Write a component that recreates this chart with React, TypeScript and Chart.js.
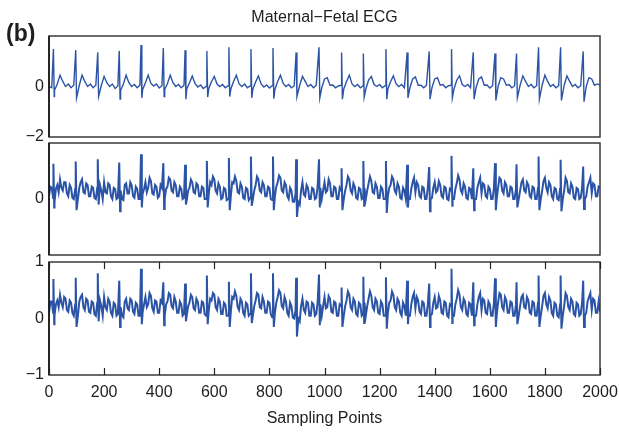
import React, { useEffect, useRef } from "react";
import { Chart, registerables } from "chart.js";

Chart.register(...registerables);

// ---------------- data ----------------
const STEP1 = 10; // sampling points between readings, panel 1
const STEP23 = 5; // sampling points between readings, panels 2 and 3

// maternal R-peak positions (sampling points), shared by all three traces
const beatX = [16, 97, 177, 255, 334, 415, 494, 573, 653, 733, 813, 897, 980, 1062, 1141, 1223, 1300, 1380, 1461, 1540, 1619, 1697, 1777, 1857, 1939];

// panel 1 : maternal-fetal ECG
const ecg1Grid = [
  0.0, -0.05, -0.15, 0.1, 0.45, 0.2, 0.0, 0.1, -0.05, 0.05,
  0.0, 0.05, 0.45, 0.2, 0.0, 0.1, -0.05, 0.05, 0.0, 0.05,
  0.4, 0.15, 0.0, 0.1, -0.08, 0.02, -0.15, 0.1, 0.45, 0.15,
  0.0, 0.08, -0.05, 0.05, -0.12, 0.15, 0.45, 0.12, 0.02, 0.1,
  -0.06, 0.03, -0.12, 0.12, 0.45, 0.15, 0.0, 0.08, -0.05, 0.05,
  -0.1, 0.15, 0.42, 0.12, -0.02, 0.06, -0.08, 0.0, -0.08, 0.2,
  0.4, 0.1, 0.0, 0.08, -0.05, 0.03, -0.1, 0.2, 0.45, 0.1,
  0.0, 0.1, -0.05, 0.02, -0.1, 0.18, 0.42, 0.1, -0.02, 0.06,
  -0.06, 0.03, -0.12, 0.2, 0.45, 0.12, 0.0, 0.08, -0.05, 0.03,
  0.0, 0.05, 0.4, 0.2, 0.0, 0.08, -0.05, 0.05, 0.0, -0.05,
  0.3, 0.35, 0.05, 0.06, -0.05, 0.02, 0.05, -0.1, 0.2, 0.45,
  0.1, 0.0, 0.08, -0.05, 0.02, -0.1, 0.25, 0.4, 0.08, 0.0,
  0.08, -0.05, 0.03, -0.1, 0.2, 0.42, 0.1, 0.0, 0.08, -0.05,
  0.0, -0.05, 0.3, 0.38, 0.05, 0.05, -0.05, 0.05, 0.0, -0.05,
  0.3, 0.35, 0.05, 0.08, -0.05, 0.03, 0.05, -0.1, 0.25, 0.42,
  0.08, 0.0, 0.08, -0.05, 0.0, -0.05, 0.3, 0.38, 0.05, 0.06,
  -0.06, 0.03, 0.0, 0.0, 0.35, 0.3, 0.05, 0.08, -0.05, 0.03,
  0.0, 0.05, 0.42, 0.2, 0.0, 0.08, -0.05, 0.03, 0.0, 0.05,
  0.45, 0.2, 0.0, 0.08, -0.05, 0.03, 0.0, 0.05, 0.42, 0.2,
  0.0, 0.08, -0.05, 0.03, 0.0, 0.0, 0.35, 0.3, 0.05, 0.1,
  0.05,
];
const ecg1Peak = [1.48, 1.44, 1.35, 1.41, 1.64, 1.52, 1.44, 1.41, 1.55, 1.48, 1.52, 1.35, 1.55, 1.35, 1.31, 1.48, 1.35, 1.39, 1.48, 1.35, 1.31, 1.31, 1.55, 1.55, 1.39];
const ecg1Dip = [-0.4, -0.45, -0.4, -0.5, -0.45, -0.4, -0.5, -0.42, -0.4, -0.45, -0.48, -0.4, -0.45, -0.5, -0.42, -0.5, -0.45, -0.5, -0.45, -0.5, -0.55, -0.45, -0.5, -0.55, -0.6];

// panel 2
const ecg2Grid = [
  0.05, 0.22, 0.2, 0.02, -0.05, 0.18, 0.25, 0.12, 0.35, 0.2, 0.15, 0.3, 0.3, 0.1, 0.05, 0.25, 0.2, 0.02, 0.0, 0.18,
  0.1, 0.0, 0.2, 0.3, 0.35, 0.12, 0.1, 0.28, 0.25, 0.05, 0.05, 0.22, 0.2, 0.02, 0.0, 0.2, 0.1, 0.25, 0.15, 0.0,
  0.3, 0.12, 0.1, 0.28, 0.25, 0.05, 0.0, 0.2, 0.18, 0.0, 0.02, 0.2, 0.15, 0.0, -0.02, 0.25, 0.28, 0.1, 0.1, 0.3,
  0.25, 0.05, 0.02, 0.22, 0.18, 0.0, 0.0, 0.2, 0.1, 0.18, 0.3, 0.12, 0.2, 0.38, 0.32, 0.1, 0.08, 0.25, 0.22, 0.02,
  0.05, 0.25, 0.2, 0.0, 0.0, 0.18, 0.22, 0.38, 0.35, 0.15, 0.12, 0.3, 0.25, 0.05, 0.05, 0.22, 0.18, 0.0, 0.02, 0.2,
  -0.02, 0.15, 0.2, 0.35, 0.3, 0.12, 0.1, 0.28, 0.25, 0.05, 0.05, 0.22, 0.2, 0.0, 0.0, 0.18, 0.1, 0.3, 0.25, 0.4,
  0.35, 0.15, 0.1, 0.28, 0.22, 0.0, 0.02, 0.2, 0.18, -0.02, 0.0, 0.2, 0.05, 0.3, 0.28, 0.4, 0.32, 0.12, 0.1, 0.28,
  0.22, 0.02, 0.0, 0.2, 0.18, -0.02, 0.02, 0.2, 0.0, 0.15, 0.25, 0.4, 0.35, 0.15, 0.12, 0.3, 0.25, 0.05, 0.05, 0.22,
  0.2, 0.0, -0.02, 0.18, 0.05, 0.22, 0.3, 0.42, 0.38, 0.15, 0.12, 0.3, 0.25, 0.05, 0.0, 0.2, 0.15, -0.05, -0.05, 0.1,
  0.1, -0.05, -0.1, 0.15, 0.3, 0.08, 0.05, 0.25, 0.2, 0.0, 0.0, 0.2, 0.18, 0.0, 0.02, 0.22, 0.1, 0.2, 0.0, 0.15,
  0.3, 0.12, 0.15, 0.35, 0.28, 0.05, 0.05, 0.22, 0.2, 0.0, 0.0, 0.2, 0.15, 0.0, 0.0, 0.15, 0.25, 0.4, 0.35, 0.15,
  0.1, 0.28, 0.22, 0.02, 0.0, 0.2, 0.18, 0.0, 0.02, 0.2, 0.0, 0.15, 0.28, 0.4, 0.32, 0.12, 0.1, 0.28, 0.22, 0.02,
  0.02, 0.22, 0.18, 0.0, 0.0, 0.2, 0.05, 0.2, 0.25, 0.4, 0.35, 0.15, 0.1, 0.28, 0.22, 0.02, 0.0, 0.2, 0.15, 0.0,
  0.1, 0.0, 0.0, 0.18, 0.3, 0.38, 0.12, 0.3, 0.25, 0.05, 0.02, 0.22, 0.2, 0.0, 0.0, 0.2, 0.1, 0.0, 0.02, 0.2,
  0.3, 0.12, 0.15, 0.32, 0.25, 0.05, 0.02, 0.22, 0.2, 0.0, -0.02, 0.18, 0.15, 0.0, 0.0, 0.18, 0.28, 0.42, 0.35, 0.15,
  0.1, 0.28, 0.22, 0.02, 0.0, 0.2, 0.18, 0.0, 0.1, 0.0, 0.0, 0.2, 0.3, 0.38, 0.1, 0.28, 0.25, 0.05, 0.02, 0.22,
  0.18, 0.0, 0.0, 0.2, 0.1, 0.0, 0.2, 0.38, 0.35, 0.15, 0.1, 0.3, 0.25, 0.05, 0.05, 0.22, 0.2, 0.0, 0.0, 0.18,
  0.1, 0.0, 0.15, 0.3, 0.35, 0.15, 0.12, 0.3, 0.25, 0.05, 0.02, 0.22, 0.2, 0.0, 0.0, 0.2, 0.1, 0.0, 0.15, 0.32,
  0.38, 0.2, 0.12, 0.3, 0.25, 0.05, 0.0, 0.2, 0.18, 0.0, -0.02, 0.18, 0.1, 0.0, 0.15, 0.38, 0.32, 0.12, 0.1, 0.28,
  0.22, 0.02, 0.0, 0.2, 0.18, 0.0, 0.02, 0.2, 0.1, 0.0, 0.05, 0.22, 0.3, 0.38, 0.1, 0.28, 0.25, 0.05, 0.05, 0.22,
  0.2,
];
const ecg2Peak = [0.63, 0.67, 0.71, 0.65, 0.8, 0.64, 0.61, 0.68, 0.73, 0.76, 0.76, 0.71, 0.71, 0.55, 0.68, 0.68, 0.61, 0.57, 0.77, 0.55, 0.64, 0.62, 0.76, 0.7, 0.58];
const ecg2Dip = [-0.15, -0.2, -0.1, -0.22, -0.15, -0.18, -0.1, -0.15, -0.2, -0.12, -0.2, -0.32, -0.15, -0.2, -0.12, -0.25, -0.15, -0.22, -0.12, -0.2, -0.2, -0.15, -0.2, -0.22, -0.18];

// panel 3
const ecg3Grid = [
  0.1, 0.3, 0.3, 0.1, 0.05, 0.25, 0.32, 0.2, 0.42, 0.28, 0.2, 0.38, 0.35, 0.15, 0.12, 0.32, 0.28, 0.1, 0.05, 0.25,
  0.15, 0.05, 0.3, 0.38, 0.42, 0.2, 0.15, 0.35, 0.32, 0.12, 0.1, 0.3, 0.28, 0.08, 0.05, 0.28, 0.15, 0.32, 0.22, 0.05,
  0.38, 0.2, 0.15, 0.35, 0.3, 0.1, 0.05, 0.28, 0.25, 0.05, 0.08, 0.28, 0.2, 0.05, 0.02, 0.3, 0.35, 0.18, 0.15, 0.35,
  0.32, 0.12, 0.08, 0.28, 0.25, 0.05, 0.05, 0.25, 0.12, 0.25, 0.38, 0.2, 0.25, 0.45, 0.4, 0.18, 0.12, 0.32, 0.3, 0.1,
  0.1, 0.32, 0.28, 0.08, 0.05, 0.25, 0.3, 0.45, 0.42, 0.22, 0.18, 0.38, 0.3, 0.1, 0.1, 0.3, 0.25, 0.05, 0.08, 0.28,
  0.05, 0.22, 0.28, 0.42, 0.38, 0.18, 0.15, 0.35, 0.3, 0.1, 0.1, 0.3, 0.28, 0.08, 0.05, 0.25, 0.15, 0.35, 0.32, 0.45,
  0.42, 0.2, 0.15, 0.35, 0.3, 0.08, 0.08, 0.28, 0.25, 0.05, 0.05, 0.25, 0.12, 0.38, 0.35, 0.48, 0.4, 0.2, 0.15, 0.35,
  0.3, 0.1, 0.05, 0.28, 0.25, 0.05, 0.08, 0.28, 0.05, 0.22, 0.32, 0.45, 0.42, 0.2, 0.18, 0.38, 0.3, 0.1, 0.1, 0.3,
  0.28, 0.08, 0.02, 0.25, 0.1, 0.28, 0.38, 0.5, 0.45, 0.22, 0.18, 0.38, 0.3, 0.1, 0.05, 0.28, 0.22, 0.02, 0.0, 0.15,
  0.15, 0.0, -0.05, 0.22, 0.35, 0.15, 0.1, 0.3, 0.28, 0.05, 0.05, 0.28, 0.25, 0.05, 0.08, 0.28, 0.15, 0.25, 0.05, 0.22,
  0.38, 0.18, 0.2, 0.4, 0.35, 0.12, 0.1, 0.3, 0.28, 0.05, 0.05, 0.25, 0.22, 0.05, 0.05, 0.22, 0.32, 0.48, 0.42, 0.2,
  0.15, 0.35, 0.3, 0.08, 0.05, 0.28, 0.25, 0.05, 0.08, 0.28, 0.05, 0.22, 0.35, 0.48, 0.4, 0.2, 0.15, 0.35, 0.3, 0.1,
  0.08, 0.3, 0.25, 0.05, 0.05, 0.25, 0.1, 0.28, 0.32, 0.48, 0.42, 0.2, 0.15, 0.35, 0.3, 0.1, 0.05, 0.28, 0.22, 0.05,
  0.15, 0.05, 0.05, 0.25, 0.38, 0.45, 0.18, 0.38, 0.32, 0.12, 0.08, 0.3, 0.28, 0.05, 0.05, 0.25, 0.15, 0.05, 0.08, 0.28,
  0.38, 0.18, 0.2, 0.4, 0.32, 0.1, 0.08, 0.3, 0.28, 0.05, 0.02, 0.25, 0.22, 0.05, 0.05, 0.25, 0.35, 0.5, 0.42, 0.2,
  0.15, 0.35, 0.3, 0.08, 0.05, 0.28, 0.25, 0.05, 0.15, 0.05, 0.05, 0.25, 0.38, 0.45, 0.15, 0.35, 0.32, 0.1, 0.08, 0.3,
  0.25, 0.05, 0.05, 0.28, 0.15, 0.05, 0.28, 0.45, 0.42, 0.2, 0.15, 0.38, 0.32, 0.1, 0.1, 0.3, 0.28, 0.05, 0.05, 0.25,
  0.15, 0.05, 0.22, 0.38, 0.42, 0.2, 0.18, 0.38, 0.32, 0.1, 0.08, 0.3, 0.28, 0.05, 0.05, 0.28, 0.15, 0.05, 0.22, 0.4,
  0.45, 0.25, 0.18, 0.38, 0.32, 0.1, 0.05, 0.28, 0.25, 0.05, 0.02, 0.25, 0.15, 0.05, 0.22, 0.45, 0.4, 0.2, 0.15, 0.35,
  0.3, 0.08, 0.05, 0.28, 0.25, 0.05, 0.08, 0.28, 0.15, 0.05, 0.1, 0.3, 0.38, 0.45, 0.15, 0.35, 0.32, 0.1, 0.1, 0.3,
  0.12,
];
const ecg3Peak = [0.7, 0.72, 0.8, 0.67, 0.88, 0.64, 0.62, 0.76, 0.65, 0.8, 0.8, 0.72, 0.78, 0.55, 0.74, 0.73, 0.67, 0.62, 0.88, 0.64, 0.71, 0.64, 0.76, 0.76, 0.67];
const ecg3Dip = [-0.1, -0.15, -0.05, -0.15, -0.1, -0.12, -0.05, -0.1, -0.15, -0.08, -0.15, -0.32, -0.12, -0.15, -0.08, -0.18, -0.1, -0.15, -0.08, -0.12, -0.15, -0.1, -0.15, -0.18, -0.15];

// axis ticks
const xTickLabels = [0, 200, 400, 600, 800, 1000, 1200, 1400, 1600, 1800, 2000];
const p1YTicks = [0, -2];
const p2YTicks = [0];
const p3YTicks = [1, 0, -1];

const TITLE = "Maternal\u2212Fetal ECG";
const X_TITLE = "Sampling Points";

// ---------------- rendering ----------------
const W = 619;
const H = 432;
const LINE = "#2b54a6";
const INK = "#1e1e1e";
const FONT = "'Liberation Sans', Arial, Helvetica, sans-serif";

function buildSeries(grid: number[], step: number, peaks: number[], dips: number[]) {
  const pts: { x: number; y: number }[] = [];
  grid.forEach((y, i) => {
    const x = i * step;
    if (beatX.some((r) => x >= r && x <= r + 3)) return;
    pts.push({ x, y });
  });
  beatX.forEach((r, k) => {
    pts.push({ x: r, y: peaks[k] });
    pts.push({ x: r + 3, y: dips[k] });
  });
  pts.sort((a, b) => a.x - b.x);
  return pts;
}

const fmt = (v: number) => (v < 0 ? "\u2212" + Math.abs(v) : String(v));

const framePlugin = {
  id: "frame",
  afterDraw(chart: any) {
    const { ctx, chartArea: a } = chart;
    ctx.save();
    ctx.strokeStyle = "#3a3a3a";
    ctx.lineWidth = 1.5;
    ctx.strokeRect(a.left, a.top, a.right - a.left, a.bottom - a.top);
    ctx.strokeStyle = "#111";
    ctx.beginPath();
    ctx.moveTo(a.left, a.top);
    ctx.lineTo(a.left, a.bottom);
    ctx.stroke();
    ctx.restore();
  },
};

const innerTicksPlugin = {
  id: "innerTicks",
  afterDraw(chart: any) {
    const { ctx, chartArea: a } = chart;
    const sx = chart.scales.x;
    ctx.save();
    ctx.strokeStyle = "#222";
    ctx.lineWidth = 1.2;
    sx.ticks.forEach((t: any) => {
      const px = Math.round(sx.getPixelForValue(t.value)) + 0.5;
      ctx.beginPath();
      ctx.moveTo(px, a.bottom);
      ctx.lineTo(px, a.bottom - 7);
      ctx.moveTo(px, a.top);
      ctx.lineTo(px, a.top + 7);
      ctx.stroke();
    });
    ctx.restore();
  },
};

type PanelSpec = {
  data: { x: number; y: number }[];
  width: number;
  top: number;
  bottom: number;
  yMin: number;
  yMax: number;
  yTicks: number[];
  title?: boolean;
  xAxis?: boolean;
};

function makeConfig(p: PanelSpec): any {
  const tickFont = { family: FONT, size: 16 };
  return {
    type: "line",
    data: {
      datasets: [
        {
          data: p.data,
          borderColor: LINE,
          borderWidth: p.width,
          pointRadius: 0,
          tension: 0,
          fill: false,
        },
      ],
    },
    options: {
      animation: false,
      responsive: false,
      events: [],
      layout: {
        padding: {
          left: 0,
          right: W - 600,
          top: p.title ? 0 : p.top,
          bottom: p.xAxis ? 0 : H - p.bottom,
        },
      },
      plugins: {
        legend: { display: false },
        tooltip: { enabled: false },
        title: {
          display: !!p.title,
          text: TITLE,
          fullSize: false,
          color: INK,
          font: { family: FONT, size: 16, weight: "normal" },
          padding: { top: 8.4, bottom: p.top - 8.4 - 19.2 },
        },
      },
      scales: {
        x: {
          type: "linear",
          min: 0,
          max: 2000,
          display: !!p.xAxis,
          grid: { display: false, drawTicks: false },
          border: { display: false },
          afterBuildTicks: (s: any) => {
            s.ticks = xTickLabels.map((v) => ({ value: v }));
          },
          afterFit: (s: any) => {
            if (p.xAxis) s.height = H - p.bottom;
            s.paddingLeft = 0;
            s.paddingRight = 0;
          },
          ticks: {
            autoSkip: false,
            maxRotation: 0,
            padding: 8,
            color: INK,
            font: tickFont,
            callback: (v: number) => fmt(v),
          },
          title: {
            display: !!p.xAxis,
            text: X_TITLE,
            color: INK,
            font: tickFont,
            padding: { top: 0, bottom: 3.4 },
          },
        },
        y: {
          type: "linear",
          min: p.yMin,
          max: p.yMax,
          grid: { display: false, drawTicks: false },
          border: { display: false },
          afterBuildTicks: (s: any) => {
            s.ticks = p.yTicks.map((v) => ({ value: v }));
          },
          afterFit: (s: any) => {
            s.width = 49;
            s.paddingTop = 0;
            s.paddingBottom = 0;
          },
          ticks: {
            padding: 5,
            color: INK,
            font: tickFont,
            callback: (v: number) => fmt(v),
          },
        },
      },
    },
    plugins: p.xAxis ? [framePlugin, innerTicksPlugin] : [framePlugin],
  };
}

function Panel({ spec }: { spec: PanelSpec }) {
  const ref = useRef<HTMLCanvasElement | null>(null);
  useEffect(() => {
    if (!ref.current) return;
    const chart = new Chart(ref.current, makeConfig(spec));
    return () => chart.destroy();
  }, [spec]);
  return (
    <canvas
      ref={ref}
      width={W}
      height={H}
      style={{ position: "absolute", left: 0, top: 0, width: W, height: H }}
    />
  );
}

const panels: PanelSpec[] = [
  { data: buildSeries(ecg1Grid, STEP1, ecg1Peak, ecg1Dip), width: 1.4, top: 36, bottom: 137, yMin: -2, yMax: 2, yTicks: p1YTicks, title: true },
  { data: buildSeries(ecg2Grid, STEP23, ecg2Peak, ecg2Dip), width: 2, top: 143, bottom: 255, yMin: -1, yMax: 1, yTicks: p2YTicks },
  { data: buildSeries(ecg3Grid, STEP23, ecg3Peak, ecg3Dip), width: 2, top: 262, bottom: 375, yMin: -1, yMax: 1, yTicks: p3YTicks, xAxis: true },
];

export default function App() {
  return (
    <div style={{ position: "fixed", left: 0, top: 0, width: W, height: H, background: "#fff", overflow: "hidden" }}>
      {panels.map((p, i) => (
        <Panel key={i} spec={p} />
      ))}
      <div
        style={{
          position: "absolute",
          left: 6,
          top: 18,
          fontFamily: FONT,
          fontWeight: "bold",
          fontSize: 23,
          lineHeight: "30px",
          color: INK,
        }}
      >
        (b)
      </div>
    </div>
  );
}
